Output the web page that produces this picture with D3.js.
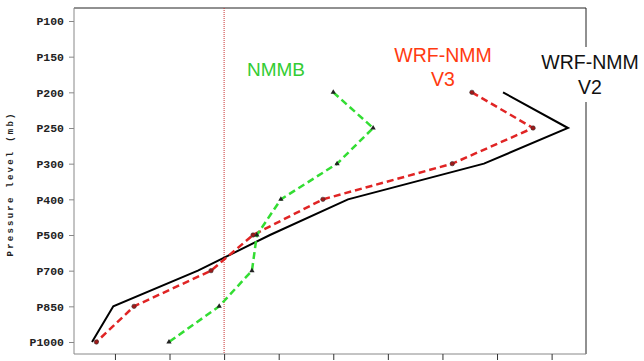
<!DOCTYPE html>
<html>
<head>
<meta charset="utf-8">
<script src="https://cdn.jsdelivr.net/npm/d3@7"></script>
<style>
  html, body { margin: 0; padding: 0; background: #fff; }
  svg { display: block; }
</style>
</head>
<body>
<svg id="chart" width="644" height="361"></svg>
<script>
// Pressure levels (top to bottom of the profile)
const levels = ["P100", "P150", "P200", "P250", "P300", "P400", "P500", "P700", "P850", "P1000"];

// Profile values per level (P200 .. P1000)
const profileLevels = ["P200", "P250", "P300", "P400", "P500", "P700", "P850", "P1000"];
const wrfNmmV2 = [5.11, 6.30, 4.76, 2.27, 0.84, -0.48, -2.03, -2.42];
const wrfNmmV3 = [4.54, 5.66, 4.18, 1.81, 0.53, -0.24, -1.65, -2.34];
const nmmb     = [2.00, 2.73, 2.07, 1.04, 0.60, 0.51, -0.09, -1.01];

const xTicks = [-2, -1, 0, 1, 2, 3, 4, 5, 6];

const svg = d3.select("#chart");
const plotL = 74, plotR = 586, plotT = 8, plotB = 354;

const x = d3.scaleLinear().domain([-2.75, 6.63]).range([plotL, plotR]);
const y = d3.scalePoint().domain(levels).range([21, 342]);

// frame: top and right edges
svg.append("line").attr("x1", plotL).attr("x2", plotR).attr("y1", plotT).attr("y2", plotT)
  .attr("stroke", "#222").attr("stroke-width", 1);
svg.append("line").attr("x1", plotR).attr("x2", plotR).attr("y1", plotT).attr("y2", plotB)
  .attr("stroke", "#222").attr("stroke-width", 1);

// left axis
const yAxis = svg.append("g").attr("transform", `translate(${plotL},0)`)
  .call(d3.axisLeft(y).tickSize(5).tickPadding(5));
yAxis.select(".domain").attr("stroke", "#888").attr("d", `M0,${plotT}V${plotB}`);
yAxis.selectAll(".tick line").attr("stroke", "#888");
yAxis.selectAll(".tick text")
  .attr("font-family", "'Liberation Mono', 'DejaVu Sans Mono', monospace")
  .attr("font-weight", "bold").attr("font-size", 11.5).attr("fill", "#222");

// bottom axis
const xAxis = svg.append("g").attr("transform", `translate(0,${plotB})`)
  .call(d3.axisBottom(x).tickValues(xTicks).tickSize(6).tickFormat(""));
xAxis.select(".domain").attr("stroke", "#888").attr("d", `M${plotL},0H${plotR}`);
xAxis.selectAll(".tick line").attr("stroke", "#333");

// axis title
svg.append("text")
  .attr("transform", "translate(13,185) rotate(-90)")
  .attr("text-anchor", "middle")
  .attr("font-family", "'Liberation Mono', 'DejaVu Sans Mono', monospace")
  .attr("font-weight", "bold").attr("font-size", 9)
  .attr("textLength", 143).attr("lengthAdjust", "spacing")
  .attr("fill", "#222")
  .text("Pressure level (mb)");

// zero reference line
svg.append("line").attr("x1", x(0)).attr("x2", x(0)).attr("y1", plotT).attr("y2", plotB)
  .attr("stroke", "#c83030").attr("stroke-width", 1).attr("stroke-dasharray", "1,1");

const line = d3.line().x(d => x(d.v)).y(d => y(d.p));
const pts = vals => vals.map((v, i) => ({ v, p: profileLevels[i] }));

// WRF-NMM V2 (solid black)
svg.append("path").datum(pts(wrfNmmV2)).attr("d", line)
  .attr("fill", "none").attr("stroke", "#000").attr("stroke-width", 2);

// WRF-NMM V3 (dashed red)
svg.append("path").datum(pts(wrfNmmV3)).attr("d", line)
  .attr("fill", "none").attr("stroke", "#e02424").attr("stroke-width", 2.5)
  .attr("stroke-dasharray", "7,4");
svg.selectAll(".v3pt").data(pts(wrfNmmV3)).enter().append("circle")
  .attr("cx", d => x(d.v)).attr("cy", d => y(d.p)).attr("r", 2.2)
  .attr("fill", "#a01818").attr("stroke", "#333").attr("stroke-width", 0.6);

// NMMB (dashed green)
svg.append("path").datum(pts(nmmb)).attr("d", line)
  .attr("fill", "none").attr("stroke", "#33dd33").attr("stroke-width", 2.5)
  .attr("stroke-dasharray", "7,4");
svg.selectAll(".nmmbpt").data(pts(nmmb)).enter().append("path")
  .attr("d", d3.symbol(d3.symbolTriangle, 12))
  .attr("transform", d => `translate(${x(d.v)},${y(d.p)})`)
  .attr("fill", "#222");

// series labels
const labelFont = "Arial, 'Liberation Sans', sans-serif";
svg.append("text").attr("x", 276).attr("y", 76).attr("text-anchor", "middle")
  .attr("font-family", labelFont).attr("font-size", 19).attr("fill", "#33cc33").text("NMMB");

svg.append("text").attr("x", 443).attr("y", 62).attr("text-anchor", "middle")
  .attr("font-family", labelFont).attr("font-size", 19.5).attr("fill", "#ff3a10").text("WRF-NMM");
svg.append("text").attr("x", 443).attr("y", 86).attr("text-anchor", "middle")
  .attr("font-family", labelFont).attr("font-size", 19.5).attr("fill", "#ff3a10").text("V3");

svg.append("rect").attr("x", 540).attr("y", 47).attr("width", 104).attr("height", 55).attr("fill", "#fff");
svg.append("text").attr("x", 590).attr("y", 69).attr("text-anchor", "middle")
  .attr("font-family", labelFont).attr("font-size", 19.5).attr("fill", "#111").text("WRF-NMM");
svg.append("text").attr("x", 590).attr("y", 94).attr("text-anchor", "middle")
  .attr("font-family", labelFont).attr("font-size", 19.5).attr("fill", "#111").text("V2");
</script>
</body>
</html>
